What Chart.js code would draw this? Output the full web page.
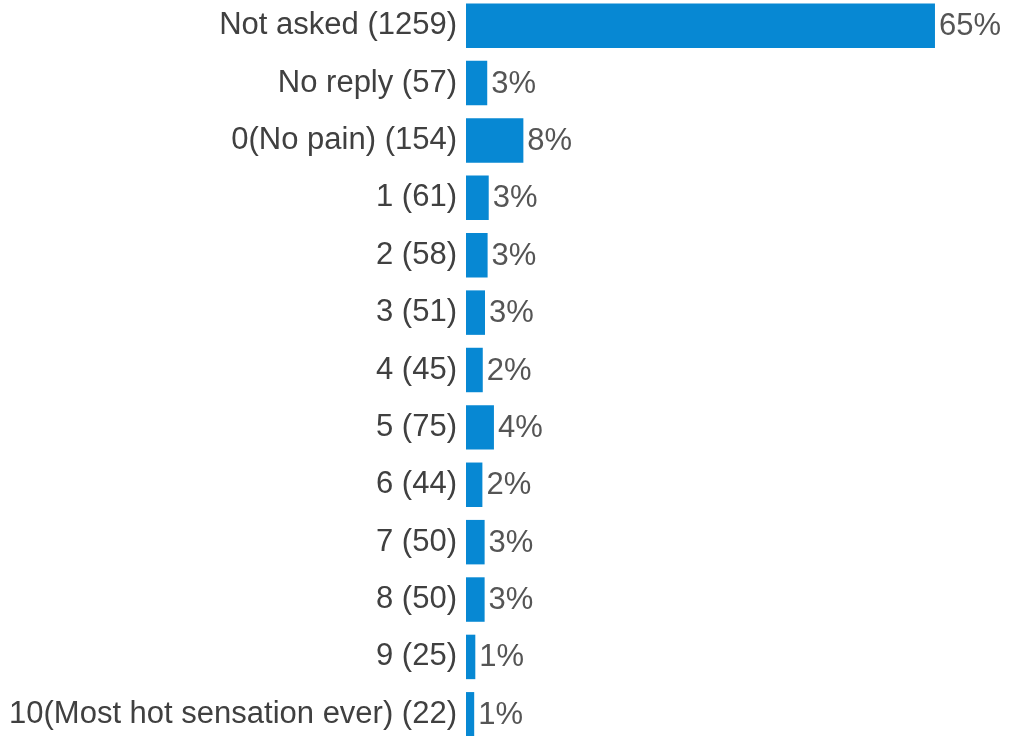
<!DOCTYPE html>
<html>
<head>
<meta charset="utf-8">
<script src="https://cdn.jsdelivr.net/npm/chart.js@4"></script>
<style>
  html, body { margin: 0; padding: 0; background: #fff; overflow: hidden; }
  #wrap { position: absolute; left: 0; top: -3px; width: 1009px; height: 746px; }
</style>
</head>
<body>
<div id="wrap"><canvas id="painChart"></canvas></div>
<script>
// Answers and how many people gave each one
const categories = ['Not asked', 'No reply', '0(No pain)', '1', '2', '3', '4', '5', '6', '7', '8', '9', '10(Most hot sensation ever)'];
const counts = [1259, 57, 154, 61, 58, 51, 45, 75, 44, 50, 50, 25, 22];
const percents = [65, 3, 8, 3, 3, 3, 2, 4, 2, 3, 3, 1, 1];

const labels = categories.map((c, i) => c + ' (' + counts[i] + ')');

// Percentage text to the right of each bar
const percentLabels = {
    id: 'percentLabels',
    afterDatasetsDraw(chart) {
        const ctx = chart.ctx;
        const meta = chart.getDatasetMeta(0);
        ctx.save();
        ctx.font = '31px "Liberation Sans", Arial, sans-serif';
        ctx.fillStyle = '#555555';
        ctx.textAlign = 'left';
        ctx.textBaseline = 'middle';
        meta.data.forEach((bar, i) => {
            ctx.fillText(percents[i] + '%', bar.x + 4, bar.y + 1);
        });
        ctx.restore();
    }
};

new Chart(document.getElementById('painChart'), {
    type: 'bar',
    data: {
        labels: labels,
        datasets: [{
            data: counts,
            backgroundColor: '#0788d3',
            borderWidth: 0,
            barPercentage: 0.775,
            categoryPercentage: 1,
        }]
    },
    options: {
        indexAxis: 'y',
        responsive: true,
        maintainAspectRatio: false,
        animation: false,
        layout: { padding: { top: 0, bottom: 0, left: 0, right: 4 } },
        plugins: {
            legend: { display: false },
            tooltip: { enabled: false },
        },
        scales: {
            x: {
                display: false,
                min: 0,
                max: 1447,
            },
            y: {
                afterFit(scale) {
                    scale.width = 466;
                    scale.paddingTop = 0;
                    scale.paddingBottom = 0;
                },
                grid: { display: false, drawTicks: false },
                border: { display: false },
                ticks: {
                    padding: 9,
                    color: '#404040',
                    font: { family: '"Liberation Sans", Arial, sans-serif', size: 31 },
                },
            },
        },
    },
    plugins: [percentLabels]
});
</script>
</body>
</html>
